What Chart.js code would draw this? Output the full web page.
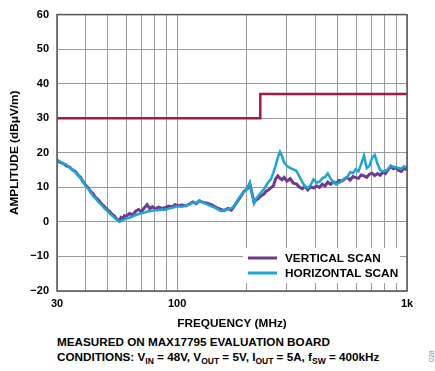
<!DOCTYPE html>
<html>
<head>
<meta charset="utf-8">
<script src="https://cdn.jsdelivr.net/npm/chart.js@4/dist/chart.umd.min.js"></script>
<style>
  body{margin:0;background:#fff;font-family:"Liberation Sans",Arial,sans-serif;}
  #wrap{position:relative;width:435px;height:371px;}
  #notes{position:absolute;left:57px;top:335px;font-weight:bold;font-size:11.7px;line-height:14.5px;color:#000;white-space:nowrap;}
  #notes sub{font-size:8.5px;vertical-align:-3px;line-height:0;}
  #fig{position:absolute;left:428px;top:362px;font-size:7px;color:#888;transform:rotate(-90deg);transform-origin:0 0;}
</style>
</head>
<body>
<div id="wrap">
  <canvas id="emiChart" width="435" height="335"></canvas>
  <div id="notes">
    MEASURED ON MAX17795 EVALUATION BOARD<br>
    CONDITIONS: V<sub>IN</sub> = 48V, V<sub>OUT</sub> = 5V, I<sub>OUT</sub> = 5A, f<sub>SW</sub> = 400kHz
  </div>
  <div id="fig">028</div>
</div>
<script>
// ===== DATA =====
const freqMHz = [
  30,31,32,33,34,35,36,37,38,39,40,41,42,43,44,45,46,47,48,49,50,51,52,53,54,55,56,57,58,59,60,
  62,64,66,68,70,72,74,76,78,80,
  83,86,89,92,95,98,101,
  105,109,113,117,121,125,
  130,135,140,145,150,155,160,
  166,172,178,184,190,196,202,
  207,212,216,220,
  226,232,238,244,250,256,262,268,274,280,286,292,
  300,310,320,330,340,350,360,370,380,
  392,404,416,428,440,452,
  465,478,492,506,520,
  535,550,566,582,598,
  615,632,650,668,686,
  705,724,744,764,785,
  806,828,850,873,896,
  920,945,970,1000
];

const verticalScan = [
  17.8,17.2,16.9,16.2,15.9,15.1,14.6,13.6,12.9,11.6,10.6,9.9,8.8,8.2,7.2,6.6,5.9,5.1,4.6,3.9,3.4,2.9,2.2,1.9,1.2,0.6,0.4,1.3,0.9,1.8,1.6,
  2.4,2.0,3.1,3.6,2.9,4.1,5.0,3.8,4.4,3.7,
  4.3,3.9,4.2,4.6,4.3,5.0,4.7,
  4.9,4.6,5.2,5.8,5.3,6.1,
  5.6,5.4,5.1,4.5,4.0,3.6,3.3,
  3.9,3.4,4.8,6.2,7.6,8.9,9.6,
  11.0,8.2,5.6,6.3,
  6.8,7.6,8.0,8.9,9.3,9.9,10.4,12.4,13.3,12.6,12.2,12.9,
  11.8,12.5,11.2,11.0,10.1,9.6,10.3,9.3,10.2,
  9.8,10.4,10.0,10.9,10.4,11.5,
  10.9,11.6,11.1,12.0,11.8,
  12.4,12.9,12.1,13.1,12.8,
  12.6,13.6,13.3,12.9,13.8,
  14.1,13.4,14.0,13.5,14.4,
  14.0,15.1,16.1,15.4,15.7,
  14.9,14.6,15.6,15.0
];

const horizontalScan = [
  18.0,17.4,16.8,16.6,15.7,15.2,14.4,13.7,12.6,11.8,10.4,9.6,8.6,7.6,6.9,6.1,5.4,4.8,4.1,3.5,3.0,2.4,1.8,1.4,0.9,0.5,0.0,0.2,0.5,0.7,1.0,
  1.2,1.6,2.0,2.3,2.5,2.7,3.0,3.1,3.2,3.4,
  3.4,3.6,3.5,3.9,4.0,4.4,4.5,
  4.4,4.7,5.0,5.6,5.4,6.2,
  5.5,5.1,4.6,4.2,3.7,3.1,3.4,
  3.6,4.0,4.6,6.6,7.8,8.8,9.8,
  11.4,8.0,5.4,6.6,
  7.6,8.6,9.4,10.6,11.6,12.4,14.2,16.2,18.6,20.3,19.0,17.2,
  16.2,15.6,15.2,14.8,13.2,11.6,10.2,9.8,10.6,
  12.3,11.4,11.6,12.6,13.0,14.0,
  12.6,11.4,10.9,11.3,11.8,
  12.6,13.0,14.4,14.1,15.2,
  14.6,16.8,19.2,15.6,16.2,
  18.6,19.4,16.8,15.0,14.6,
  14.8,15.3,16.2,16.0,15.8,
  15.6,15.4,16.1,15.6
];

// limit line (step at 230MHz)
const limitFreq = [30, 230, 230, 1000];
const limitLevel = [30, 30, 37, 37];

const xTicks = [30,40,50,60,70,80,90,100,200,300,400,500,600,700,800,900,1000];
const xTickLabels = {30:"30", 100:"100", 1000:"1k"};

const PURPLE = "#6e3a8c";
const BLUE = "#1ea5d6";
const LIMIT = "#a11b47";

function toPoints(xs, ys){
  return xs.map((x,i)=>({x:x, y:ys[i]}));
}

// ===== PLUGINS =====
const legendBox = {
  id:"legendBox",
  afterDatasetsDraw(chart){
    const c = chart.ctx;
    c.save();
    c.fillStyle = "#fff";
    c.fillRect(243, 248, 157, 35);
    c.lineWidth = 3;
    c.strokeStyle = PURPLE;
    c.beginPath(); c.moveTo(248, 258); c.lineTo(277, 258); c.stroke();
    c.strokeStyle = BLUE;
    c.beginPath(); c.moveTo(248, 273); c.lineTo(277, 273); c.stroke();
    c.fillStyle = "#000";
    c.font = "bold 11.8px 'Liberation Sans', Arial, sans-serif";
    c.textBaseline = "middle";
    c.fillText("VERTICAL SCAN", 285, 259);
    c.fillText("HORIZONTAL SCAN", 285, 274);
    c.restore();
  }
};

const frame = {
  id:"frame",
  afterDraw(chart){
    const a = chart.chartArea;
    const c = chart.ctx;
    c.save();
    c.strokeStyle = "#555";
    c.lineWidth = 1.5;
    c.strokeRect(a.left, a.top, a.right - a.left, a.bottom - a.top);
    c.restore();
  }
};

// ===== CHART =====
const tickFont = {family:"'Liberation Sans', Arial, sans-serif", size:11, weight:"bold"};
const titleFont = {family:"'Liberation Sans', Arial, sans-serif", size:11.8, weight:"bold"};

new Chart(document.getElementById("emiChart"), {
  type:"scatter",
  data:{
    datasets:[
      {
        label:"HORIZONTAL SCAN",
        data:toPoints(freqMHz, horizontalScan),
        showLine:true, borderColor:BLUE, borderWidth:2.5,
        pointRadius:0, tension:0
      },
      {
        label:"VERTICAL SCAN",
        data:toPoints(freqMHz, verticalScan),
        showLine:true, borderColor:PURPLE, borderWidth:3,
        pointRadius:0, tension:0
      },
      {
        label:"LIMIT",
        data:toPoints(limitFreq, limitLevel),
        showLine:true, borderColor:LIMIT, borderWidth:2.5,
        pointRadius:0, tension:0
      }
    ]
  },
  options:{
    responsive:false,
    animation:false,
    layout:{padding:{top:11, right:28, left:0, bottom:0}},
    plugins:{legend:{display:false}, tooltip:{enabled:false}},
    scales:{
      x:{
        type:"logarithmic",
        min:30, max:1000,
        afterBuildTicks(s){ s.ticks = xTicks.map(v=>({value:v})); },
        afterFit(s){ s.height = 44; },
        ticks:{
          autoSkip:false, maxRotation:0, padding:6,
          color:"#000", font:tickFont,
          callback(v){ return xTickLabels[v] || ""; }
        },
        grid:{color:"#9a9a9a", lineWidth:1, drawTicks:false},
        border:{display:false},
        title:{display:true, text:"FREQUENCY (MHz)", color:"#000", font:titleFont, padding:{top:0, bottom:4}}
      },
      y:{
        min:-20, max:60,
        afterFit(s){ s.width = 57; },
        ticks:{
          stepSize:10, padding:8,
          color:"#000", font:tickFont,
          callback(v){ return v < 0 ? "\u2212" + Math.abs(v) : v; }
        },
        grid:{color:"#9a9a9a", lineWidth:1, drawTicks:false},
        border:{display:false},
        title:{display:true, text:"AMPLITUDE (dBμV/m)", color:"#000", font:titleFont, padding:{top:8, bottom:0}}
      }
    }
  },
  plugins:[legendBox, frame]
});
</script>
</body>
</html>
